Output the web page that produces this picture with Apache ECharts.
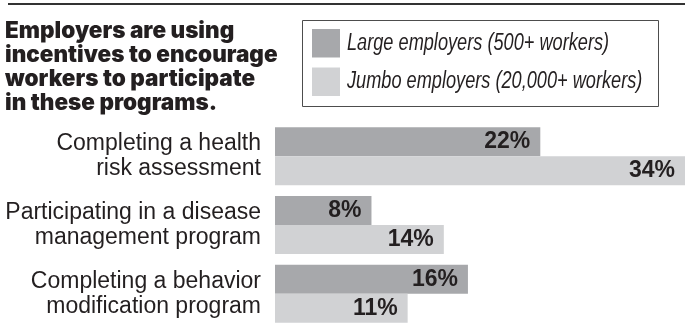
<!DOCTYPE html>
<html>
<head>
<meta charset="utf-8">
<script src="https://cdn.jsdelivr.net/npm/echarts@6/dist/echarts.min.js"></script>
<style>
  html, body { margin: 0; padding: 0; background: #fff; }
  #chart { width: 685px; height: 328px; }
</style>
</head>
<body>
<div id="chart"></div>
<script>
// Share of employers using incentives, by program type
const categories = [
  'Completing a health\nrisk assessment',
  'Participating in a disease\nmanagement program',
  'Completing a behavior\nmodification program'
];
const seriesNames = ['Large employers (500+ workers)', 'Jumbo employers (20,000+ workers)'];
const largeValues = [22, 8, 16];
const jumboValues = [34, 14, 11];
const titleText = 'Employers are using\nincentives to encourage\nworkers to participate\nin these programs.';

const textColor = '#231f20';
const darkGray = '#a7a8ab';
const lightGray = '#d1d2d4';
const seriesColors = [darkGray, lightGray];

const chart = echarts.init(document.getElementById('chart'), null, { renderer: 'canvas' });

const valueLabel = {
  show: true,
  position: 'insideRight',
  distance: 10,
  formatter: '{c}%',
  color: textColor,
  fontFamily: 'Liberation Sans',
  fontWeight: 'bold',
  fontSize: 23
};

// Boxed key: swatch + condensed italic caption per series
const keyItems = [];
seriesNames.forEach(function (name, i) {
  const top = i === 0 ? 29 : 67.5;
  keyItems.push({
    type: 'rect',
    shape: { x: 312, y: top, width: 28, height: 28.5 },
    style: { fill: seriesColors[i] },
    silent: true
  });
  keyItems.push({
    type: 'text',
    x: 347,
    y: top + 14.5,
    scaleX: 0.79,
    style: {
      text: name,
      fill: textColor,
      font: 'italic 23px "Liberation Sans"',
      textVerticalAlign: 'middle',
      textAlign: 'left'
    },
    silent: true
  });
});

chart.setOption({
  animation: false,
  backgroundColor: '#ffffff',
  title: {
    text: titleText,
    left: 5,
    top: 19,
    padding: 0,
    textStyle: {
      fontFamily: 'Inter',
      fontWeight: 900,
      fontSize: 22.5,
      lineHeight: 24,
      color: textColor
    }
  },
  graphic: [
    {
      type: 'line',
      shape: { x1: 8, y1: 4, x2: 685, y2: 4 },
      style: { stroke: '#333333', lineWidth: 2 },
      silent: true
    },
    {
      type: 'rect',
      shape: { x: 302.5, y: 20.5, width: 356, height: 86 },
      style: { fill: 'none', stroke: '#4d4d4d', lineWidth: 1 },
      silent: true
    }
  ].concat(keyItems),
  grid: {
    left: 275,
    top: 122,
    width: 410,
    height: 210,
    containLabel: false
  },
  xAxis: {
    type: 'value',
    min: 0,
    max: 34,
    show: false
  },
  yAxis: {
    type: 'category',
    data: categories,
    inverse: true,
    axisLine: { show: false },
    axisTick: { show: false },
    splitLine: { show: false },
    axisLabel: {
      margin: 14,
      fontFamily: 'Liberation Sans',
      fontSize: 23,
      lineHeight: 25,
      color: textColor,
      align: 'right'
    }
  },
  series: [
    {
      name: seriesNames[0],
      type: 'bar',
      data: largeValues,
      barWidth: 29,
      barGap: '0%',
      itemStyle: { color: darkGray },
      label: valueLabel
    },
    {
      name: seriesNames[1],
      type: 'bar',
      data: jumboValues,
      barWidth: 29,
      barGap: '0%',
      itemStyle: { color: lightGray },
      label: valueLabel
    }
  ]
});
</script>
</body>
</html>
